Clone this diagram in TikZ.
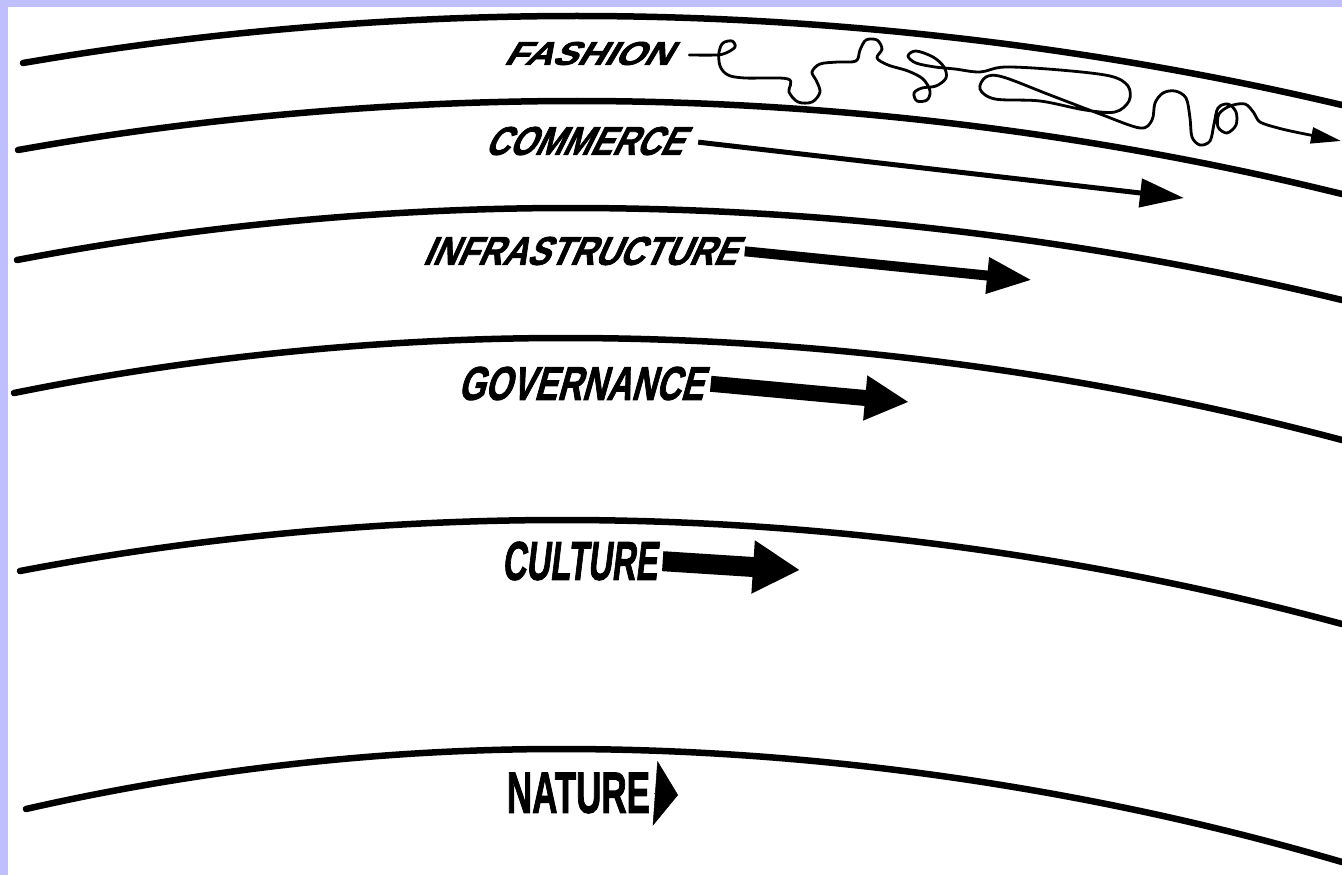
\documentclass[tikz,border=0pt]{standalone}
\usepackage{fontspec}
\usepackage{graphicx}
\setmainfont{Liberation Sans}[BoldFeatures={FakeBold=2}]
\usetikzlibrary{arrows.meta}
\definecolor{frame}{RGB}{191,191,255}

\begin{document}
\begin{tikzpicture}[
    x=1pt, y=-1pt,
    every node/.style={
        inner sep=0pt,
        font=\bfseries
    },
    band/.style={
        line width=6.5pt,
        line cap=round
    },
    pace/.style={
        draw,
        line cap=butt
    },
    wiggle/.style={
        line width=2.8pt,
        line cap=round,
        line join=round
    }
]
\useasboundingbox (0,0) rectangle (1342,875);
\fill[frame] (0,0) rectangle (1342,875);
\fill[white] (8,7) rectangle (1342,875);

% layers
\draw[band] (23,63)  parabola bend (577,16)  (1342,105);
\draw[band] (18,150) parabola bend (577,101) (1342,194);
\draw[band] (17,260) parabola bend (570,208) (1342,300);
\draw[band] (14,393) parabola bend (565,338) (1342,440);
\draw[band] (20,571) parabola bend (562,520) (1342,624);
\draw[band] (26,809) parabola bend (560,749) (1342,862);

% labels
\node (fashion)  at (593,53.5)  [xslant=0.6]  {\resizebox{166pt}{23pt}{FASHION}};
\node (commerce) at (589.5,141) [xslant=0.5]  {\resizebox{197pt}{28pt}{COMMERCE}};
\node (infra)    at (585,251)   [xslant=0.45] {\resizebox{313pt}{28pt}{INFRASTRUCTURE}};
\node (gov)      at (585,383.5) [xslant=0.28] {\resizebox{245pt}{33pt}{GOVERNANCE}};
\node (culture)  at (582,561)   [xslant=0.12] {\resizebox{155pt}{38pt}{CULTURE}};
\node (nature)   at (578.5,793)               {\resizebox{143pt}{40pt}{NATURE}};

\coordinate (fashion-tip)  at (1341,141);
\coordinate (commerce-tip) at (1184,198);
\coordinate (infra-tip)    at (1032,280);
\coordinate (gov-tip)      at (909,402);
\coordinate (culture-tip)  at (800,570);
\coordinate (nature-tip)   at (678,795);

% paces
\draw[wiggle, -{Triangle[length=30pt, width=16pt]}] plot[smooth, tension=0.55] coordinates {
    ([xshift=13pt,yshift=-1.5pt]fashion.east) (716,55) (726,53) (735,47) (732,41) (723,43) (719,52) (720,66) (728,75) (745,78) (788,79)
    (789,92) (798,102) (812,102) (820,92) (816,80) (812,72) (820,64) (838,62) (856,61)
    (860,50) (866,40) (877,40) (882,49) (877,58) (888,65) (908,71) (923,79) (930,91) (927,100) (917,101) (914,93) (922,88) (936,86) (946,78)
    (944,67) (933,57) (916,51) (908,56) (916,63) (935,67) (955,69) (980,72)
    (1005,67) (1060,70) (1110,76) (1128,86) (1129,101) (1115,112) (1085,110) (1040,101) (995,99) (980,89) (986,77) (1003,77) (1050,95) (1100,114) (1140,128)
    (1152,120) (1155,103) (1163,93) (1175,91) (1186,98) (1190,118) (1192,137) (1200,145) (1210,141) (1214,124) (1218,108) (1228,104) (1236,112) (1236,125) (1227,133) (1218,127) (1219,114) (1230,106) (1245,104) (1254,113) (1260,122) (1278,128) (1300,133) (fashion-tip)
};
\draw[pace, line width=5pt, -{Triangle[length=44pt, width=28pt]}, shorten <=10pt] (commerce.east) -- (commerce-tip);
\draw[pace, line width=10pt, -{Triangle[length=45pt, width=34pt]}, shorten <=3pt] (infra.east) -- (infra-tip);
\draw[pace, line width=16pt, -{Triangle[length=44pt, width=42pt]}, shorten <=3pt] (gov.east) -- (gov-tip);
\draw[pace, line width=20pt, -{Triangle[length=47pt, width=50pt]}, shorten <=3pt] (culture.east) -- (culture-tip);
\draw[pace, line width=0.5pt, -{Triangle[length=23pt, width=65pt]}, shorten <=4pt] (nature.east) -- (nature-tip);
\end{tikzpicture}
\end{document}
